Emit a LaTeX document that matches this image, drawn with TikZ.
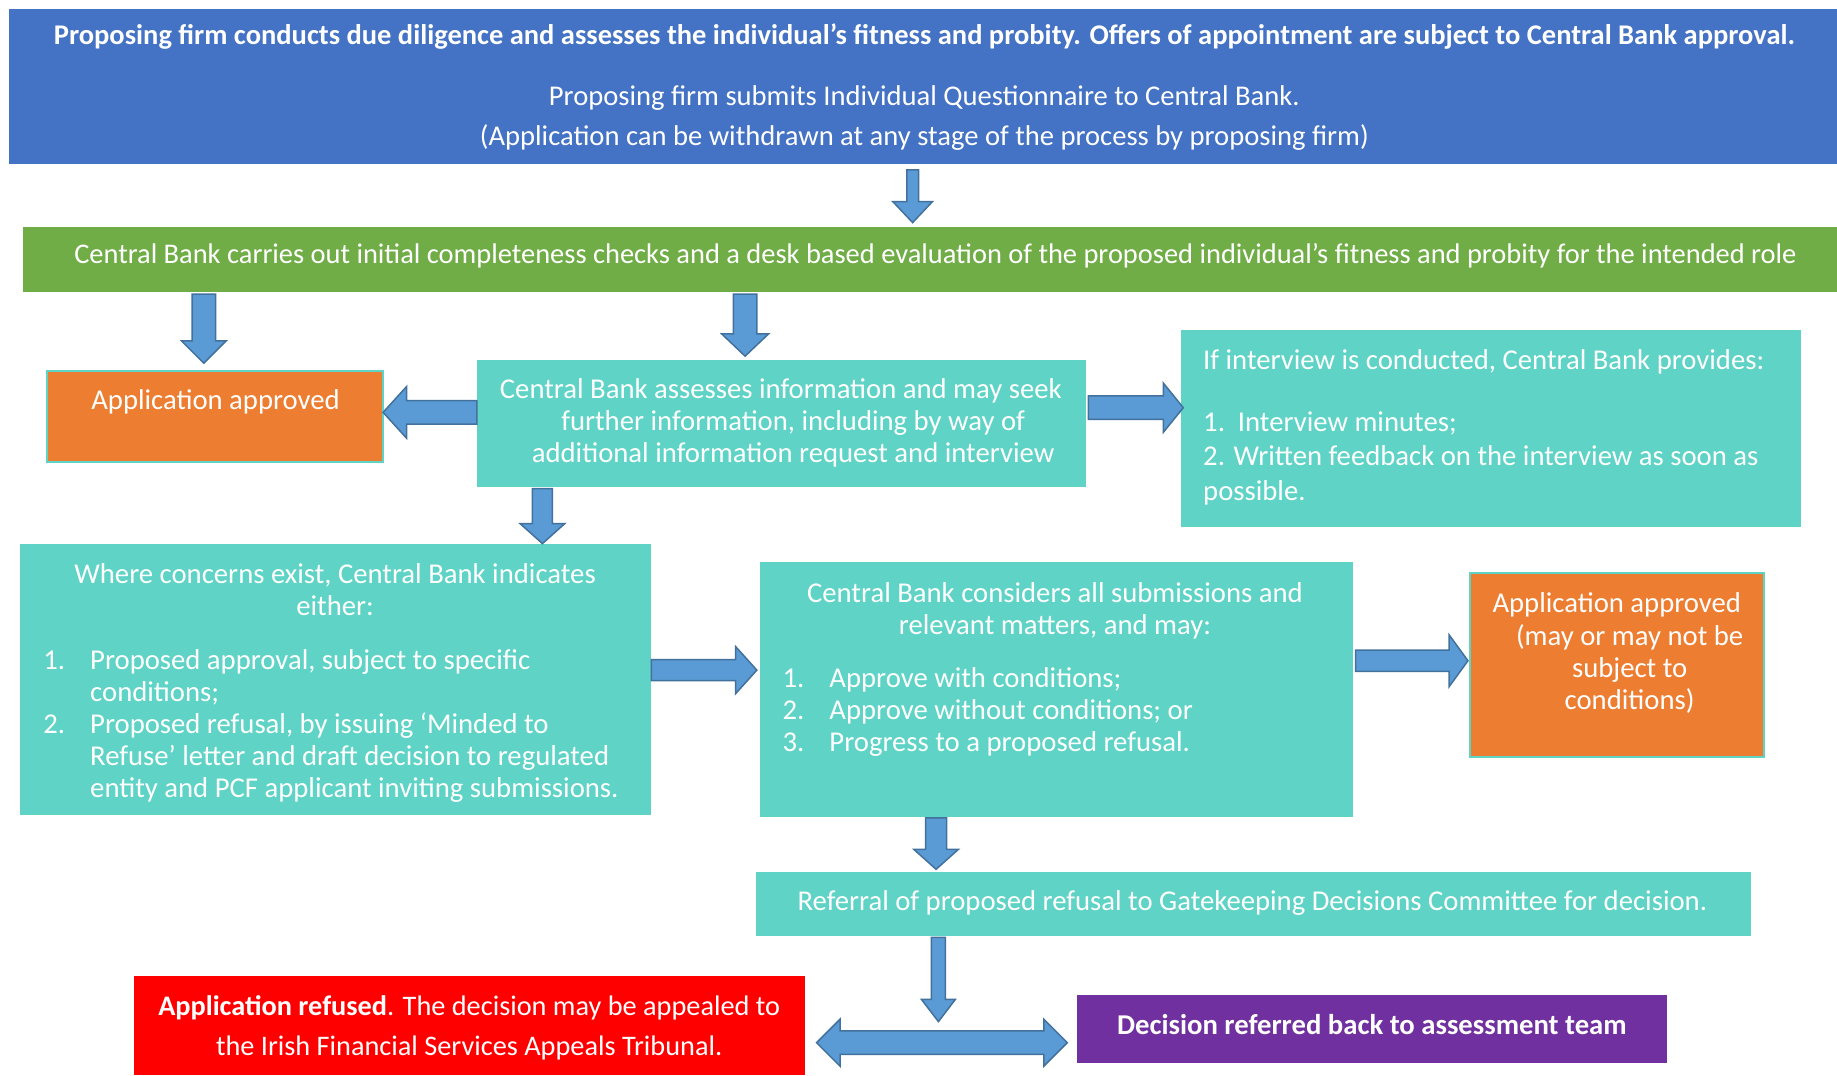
\documentclass[tikz,border=0pt]{standalone}
\usepackage{fontspec}
\setmainfont{Carlito}
\usetikzlibrary{calc,fit}
\definecolor{cbblue}{HTML}{4472C4}
\definecolor{cbgreen}{HTML}{70AD47}
\definecolor{cbteal}{HTML}{5ED3C6}
\definecolor{cborange}{HTML}{ED7D31}
\definecolor{cbred}{HTML}{FF0000}
\definecolor{cbpurple}{HTML}{7030A0}
\definecolor{arrfill}{HTML}{5B9BD5}
\definecolor{arrline}{HTML}{41719C}
\newlength\pxunit
\setlength\pxunit{1.1716pt}
\newcommand\fs{\fontsize{28.7}{32.2}\selectfont}
% down arrow: #1 start, #2 tip, #3 half shaft, #4 half head, #5 head length (shown px)
\newcommand{\arrdown}[5]{%
 \draw[barrow] let \p1=#1, \p2=#2 in
  (\x1-#3*\pxunit,\y1) -- (\x1+#3*\pxunit,\y1) -- (\x1+#3*\pxunit,\y2+#5*\pxunit)
  -- (\x1+#4*\pxunit,\y2+#5*\pxunit) -- (\x1,\y2) -- (\x1-#4*\pxunit,\y2+#5*\pxunit)
  -- (\x1-#3*\pxunit,\y2+#5*\pxunit) -- cycle;}
\newcommand{\arrright}[5]{%
 \draw[barrow] let \p1=#1, \p2=#2 in
  (\x1,\y1+#3*\pxunit) -- (\x2-#5*\pxunit,\y1+#3*\pxunit) -- (\x2-#5*\pxunit,\y1+#4*\pxunit)
  -- (\x2,\y1) -- (\x2-#5*\pxunit,\y1-#4*\pxunit) -- (\x2-#5*\pxunit,\y1-#3*\pxunit)
  -- (\x1,\y1-#3*\pxunit) -- cycle;}
\newcommand{\arrleft}[5]{%
 \draw[barrow] let \p1=#1, \p2=#2 in
  (\x1,\y1+#3*\pxunit) -- (\x2+#5*\pxunit,\y1+#3*\pxunit) -- (\x2+#5*\pxunit,\y1+#4*\pxunit)
  -- (\x2,\y1) -- (\x2+#5*\pxunit,\y1-#4*\pxunit) -- (\x2+#5*\pxunit,\y1-#3*\pxunit)
  -- (\x1,\y1-#3*\pxunit) -- cycle;}
\newcommand{\arrdouble}[5]{%
 \draw[barrow] let \p1=#1, \p2=#2 in
  (\x1,\y1) -- (\x1+#5*\pxunit,\y1+#4*\pxunit) -- (\x1+#5*\pxunit,\y1+#3*\pxunit)
  -- (\x2-#5*\pxunit,\y1+#3*\pxunit) -- (\x2-#5*\pxunit,\y1+#4*\pxunit) -- (\x2,\y1)
  -- (\x2-#5*\pxunit,\y1-#4*\pxunit) -- (\x2-#5*\pxunit,\y1-#3*\pxunit)
  -- (\x1+#5*\pxunit,\y1-#3*\pxunit) -- (\x1+#5*\pxunit,\y1-#4*\pxunit) -- cycle;}
\begin{document}
\begin{tikzpicture}[x=1.1716pt,y=-1.1716pt,
  box/.style={inner sep=0pt, outer sep=0pt},
  tealbox/.style={box, fill=cbteal},
  orangebox/.style={box, fill=cborange, draw=cbteal, line width=2pt},
  tx/.style={inner sep=0pt, outer sep=0pt, text=white, font=\fs, yshift=-3pt},
  barrow/.style={fill=arrfill, draw=arrline, line width=1.5pt, line join=miter}]
\useasboundingbox (0,0) rectangle (1568,918);

% boxes
\node[box, fill=cbblue, fit={(8,8) (1568,140)}] (top) {};
\node[box, fill=cbgreen, fit={(20,194) (1568,249)}] (green) {};
\node[orangebox, fit={(40,317) (327,394)}] (appr1) {};
\node[tealbox, fit={(407,307) (927,416)}] (assess) {};
\node[tealbox, fit={(1008,282) (1537,450)}] (interview) {};
\node[tealbox, fit={(17,464) (556,696)}] (concerns) {};
\node[tealbox, fit={(649,480) (1155,697)}] (considers) {};
\node[orangebox, fit={(1255,489) (1506,646)}] (appr2) {};
\node[tealbox, fit={(645,744) (1495,799)}] (referral) {};
\node[box, fill=cbred, fit={(114,833) (687,918)}] (refused) {};
\node[box, fill=cbpurple, fit={(919,849) (1423,907)}] (referred) {};

% texts
\node[tx, align=center, font=\fontsize{28.6}{39.8}\selectfont] (toptxt) at (789,72)
 {\textbf{\fontsize{28.5}{39.8}\selectfont Proposing firm conducts due diligence and assesses the individual’s fitness and probity. Offers of appointment are subject to Central Bank approval.}\\[21pt]
  Proposing firm submits Individual Questionnaire to Central Bank.\\
  (Application can be withdrawn at any stage of the process by proposing firm)};
\node[tx, font=\fontsize{28.45}{32.2}\selectfont] (greentxt) at (798.5,216) {Central Bank carries out initial completeness checks and a desk based evaluation of the proposed individual’s fitness and probity for the intended role};
\node[tx] (appr1txt) at (184,340.5) {Application approved};
\node[tx, align=center] (assesstxt) at (672,358.5)
 {Central Bank assesses information and may seek\hspace*{12.9pt}\\
  \hspace*{11.7pt}further information, including by way of\\
  \hspace*{11.7pt}additional information request and interview};
\node[tx, anchor=west] (interviewhead) at (1027,306) {If interview is conducted, Central Bank provides:};
\node[tx, anchor=west, align=left, font=\fontsize{28.7}{34.6}\selectfont] (interviewlist) at (1027,388.5)
 {1.\ \ Interview minutes;\\
  2. Written feedback on the interview as soon as\\
  possible.};
\node[tx, align=center] (concernshead) at (286,500.5)
 {Where concerns exist, Central Bank indicates\\either:};
\node[tx, anchor=west] (concernslist) at (37,618)
 {\begin{tabular}{@{}l@{}l@{}}
  \makebox[46.9pt][l]{1.} & Proposed approval, subject to specific\\
  & conditions;\\
  \makebox[46.9pt][l]{2.} & Proposed refusal, by issuing ‘Minded to\\
  & Refuse’ letter and draft decision to regulated\\
  & entity and PCF applicant inviting submissions.
 \end{tabular}};
\node[tx, align=center] (considershead) at (900.5,519)
 {Central Bank considers all submissions and\\relevant matters, and may:};
\node[tx, anchor=west] (considerslist) at (668,606)
 {\begin{tabular}{@{}l@{}l@{}}
  \makebox[46.9pt][l]{1.} & Approve with conditions;\\
  \makebox[46.9pt][l]{2.} & Approve without conditions; or\\
  \makebox[46.9pt][l]{3.} & Progress to a proposed refusal.
 \end{tabular}};
\node[tx, align=center] (appr2txt) at (1385.5,555)
 {Application approved\hspace*{12.9pt}\\
  \hspace*{12.9pt}(may or may not be\\
  \hspace*{12.9pt}subject to\\
  \hspace*{12.9pt}conditions)};
\node[tx] (referraltxt) at (1069,768.5) {Referral of proposed refusal to Gatekeeping Decisions Committee for decision.};
\node[tx, align=center, font=\fontsize{28.3}{39.8}\selectfont] (refusedtxt) at (400.5,874.5)
 {\textbf{Application refused}. The decision may be appealed to\\
  the Irish Financial Services Appeals Tribunal.};
\node[tx, font=\bfseries\fs] (referredtxt) at (1171,872) {Decision referred back to assessment team};

% connectors
\coordinate (dblc) at ($(refused.east |- 0,890)!0.5!(referred.west |- 0,890)$);
\arrdown{($(top.south -| 779,0)+(0,5)$)}{($(green.north -| 779,0)+(0,-4)$)}{5}{17}{18}
\arrdown{($(green.south -| 174,0)+(0,2)$)}{($(appr1.north -| 174,0)+(0,-7)$)}{10}{19}{19}
\arrdown{($(green.south -| 636,0)+(0,2)$)}{($(assess.north -| 636,0)+(0,-3)$)}{10}{20}{19}
\arrleft{(assess.west |- 0,352)}{(appr1.east |- 0,352)}{10}{22}{20}
\arrright{($(assess.east |- 0,348)+(2,0)$)}{($(interview.west |- 0,348)+(2,0)$)}{10}{21}{17}
\arrdown{($(assess.south -| 463,0)+(0,1)$)}{(concerns.north -| 463,0)}{8.5}{19}{17}
\arrright{(concerns.east |- 0,572)}{($(considers.west |- 0,572)+(-3,0)$)}{9}{20}{18}
\arrright{($(considers.east |- 0,564)+(2,0)$)}{($(appr2.west |- 0,564)+(-2,0)$)}{9}{22}{16}
\arrdown{($(considers.south -| 799,0)+(0,1)$)}{($(referral.north -| 799,0)+(0,-2)$)}{9}{19}{17}
\arrdown{($(referral.south -| 801,0)+(0,1)$)}{($(dblc -| 801,0)+(0,-18)$)}{6}{14.5}{19}
\arrdouble{($(refused.east |- 0,890)+(10,0)$)}{($(referred.west |- 0,890)+(-8,0)$)}{10}{20}{20}
\end{tikzpicture}
\end{document}
